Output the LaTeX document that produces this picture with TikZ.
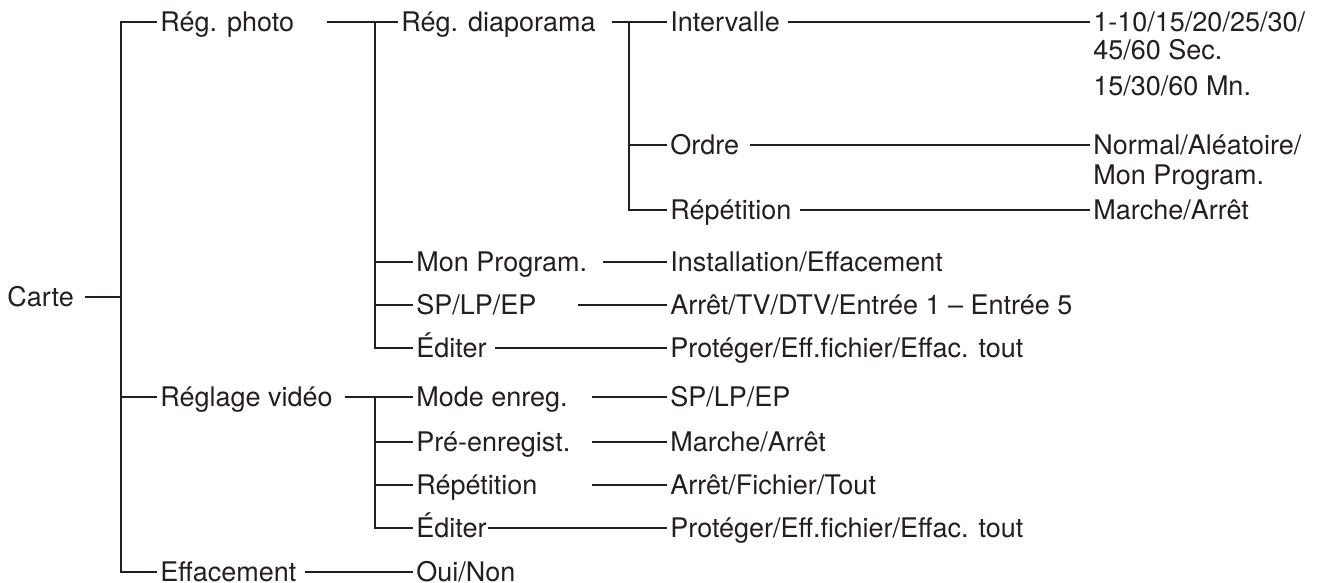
\documentclass[tikz,border=0pt]{standalone}
\usepackage{fontspec}
\setmainfont{TeX Gyre Heros}
\definecolor{ink}{RGB}{35,31,32}
\begin{document}
\begin{tikzpicture}[x=0.5pt,y=-0.5pt,
        item/.style={anchor=west,inner xsep=1.5pt,inner ysep=0pt,text height=9.7pt,text depth=0pt,
            text=ink,font=\fontsize{13.5}{16}\selectfont},
        tree/.style={draw=ink,line width=1.4pt}]
            \useasboundingbox (0,0) rectangle (1338,583);

            % first level
            \node[item] (carte) at (4,297) {Carte};
            \node[item] (regphoto) at (157,22) {Rég. photo};
            \node[item] (reglage) at (157,397) {Réglage vidéo};
            \node[item] (effacement) at (157,572) {Effacement};

            % second level
            \node[item] (regdiap) at (398,22) {Rég. diaporama};
            \node[item] (monprog) at (413,262) {Mon Program.};
            \node[item] (splpep) at (413,305) {SP/LP/EP};
            \node[item] (editer1) at (413,348) {Éditer};
            \node[item] (mode) at (413,397) {Mode enreg.};
            \node[item] (preenr) at (413,442) {Pré-enregist.};
            \node[item] (repet2) at (413,485) {Répétition};
            \node[item] (editer2) at (413,528) {Éditer};
            \node[item] (ouinon) at (413,572) {Oui/Non};

            % third level
            \node[item] (intervalle) at (667,22) {Intervalle};
            \node[item] (ordre) at (667,145) {Ordre};
            \node[item] (repet1) at (667,210) {Répétition};
            \node[item] (monprogval) at (667,262) {Installation/Effacement};
            \node[item] (splpepval) at (667,305) {Arrêt/TV/DTV/Entrée 1 – Entrée 5};
            \node[item] (editer1val) at (667,348) {Protéger/Eff.fichier/Effac. tout};
            \node[item] (modeval) at (667,397) {SP/LP/EP};
            \node[item] (preenrval) at (667,442) {Marche/Arrêt};
            \node[item] (repet2val) at (667,485) {Arrêt/Fichier/Tout};
            \node[item] (editer2val) at (667,528) {Protéger/Eff.fichier/Effac. tout};

            % fourth level
            \node[item] (intervalA) at (1090,22) {1-10/15/20/25/30/};
            \node[item] (intervalB) at (1090,50) {45/60 Sec.};
            \node[item] (intervalC) at (1090,86) {15/30/60 Mn.};
            \node[item] (ordreA) at (1090,145) {Normal/Aléatoire/};
            \node[item] (ordreB) at (1090,175) {Mon Program.};
            \node[item] (repet1val) at (1090,210) {Marche/Arrêt};

            % Carte
            \draw[tree] (carte.east -| 85,0) -- (carte.east -| 121,0);
            \draw[tree] (regphoto.west) -| (effacement.west -| 121,0) -- (effacement.west);
            \draw[tree] (reglage.west -| 121,0) -- (reglage.west);

            % Rég. photo
            \draw[tree] (regphoto.east -| 327,0) -- (regdiap.west);
            \draw[tree] (regdiap.west -| 375,0) |- (editer1.west);
            \draw[tree] (monprog.west -| 375,0) -- (monprog.west);
            \draw[tree] (splpep.west -| 375,0) -- (splpep.west);

            % Rég. diaporama
            \draw[tree] (regdiap.east -| 612,0) -- (intervalle.west);
            \draw[tree] (intervalle.west -| 629,0) |- (repet1.west);
            \draw[tree] (ordre.west -| 629,0) -- (ordre.west);
            \draw[tree] (intervalle.east -| 788,0) -- (intervalA.west);
            \draw[tree] (ordre.east -| 750,0) -- (ordreA.west);
            \draw[tree] (repet1.east -| 800,0) -- (repet1val.west);

            \draw[tree] (monprog.east -| 603,0) -- (monprogval.west);
            \draw[tree] (splpep.east -| 578,0) -- (splpepval.west);
            \draw[tree] (editer1.east -| 495,0) -- (editer1val.west);

            % Réglage vidéo
            \draw[tree] (reglage.east -| 345,0) -- (mode.west);
            \draw[tree] (mode.west -| 375,0) |- (editer2.west);
            \draw[tree] (preenr.west -| 375,0) -- (preenr.west);
            \draw[tree] (repet2.west -| 375,0) -- (repet2.west);
            \draw[tree] (mode.east -| 592,0) -- (modeval.west);
            \draw[tree] (preenr.east -| 592,0) -- (preenrval.west);
            \draw[tree] (repet2.east -| 592,0) -- (repet2val.west);
            \draw[tree] (editer2.east -| 488,0) -- (editer2val.west);

            % Effacement
            \draw[tree] (effacement.east -| 305,0) -- (ouinon.west);
\end{tikzpicture}
\end{document}
